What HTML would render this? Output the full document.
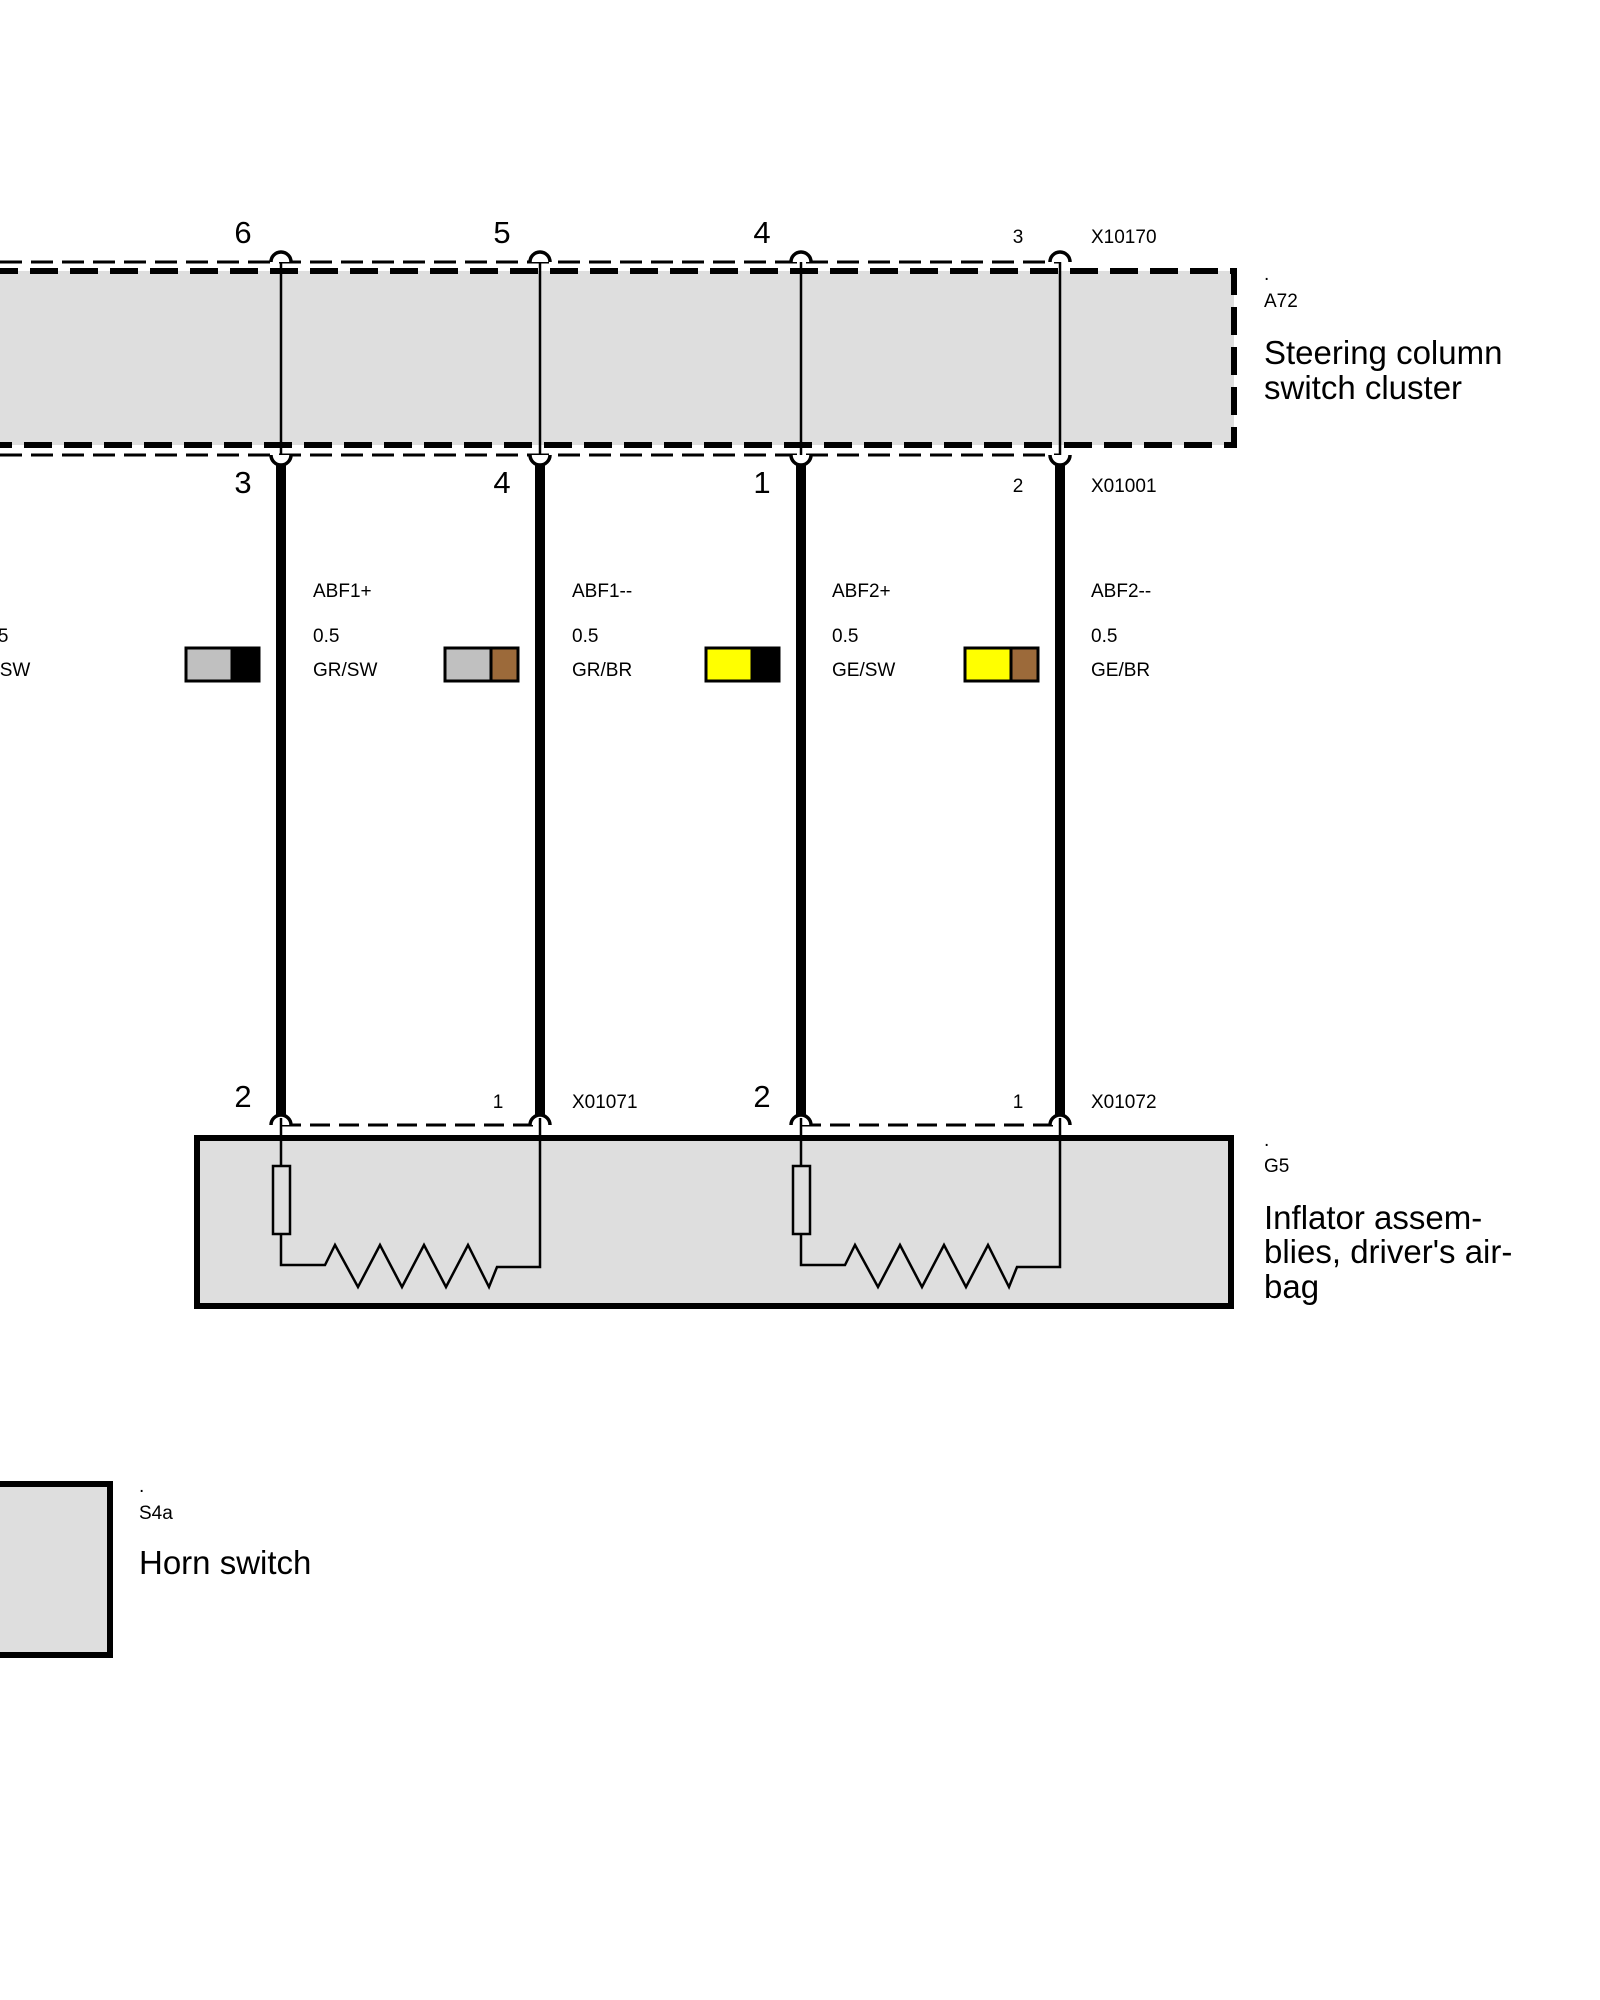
<!DOCTYPE html>
<html><head><meta charset="utf-8"><style>
html,body{margin:0;padding:0;background:#fff;}
svg{display:block;}
text{font-family:"Liberation Sans",Arial,sans-serif;fill:#000;}
.s{font-size:19px;}
.b{font-size:33px;}
.p{font-size:31px;}
</style></head><body>
<svg width="1600" height="2000" viewBox="0 0 1600 2000" xmlns="http://www.w3.org/2000/svg">
<rect x="-10" y="271" width="1244" height="174" fill="#dedede"/>
<path d="M-10 271 H1234 V445 H-10" fill="none" stroke="#000" stroke-width="6" stroke-dasharray="28 12"/>
<line x1="0" y1="262" x2="1060" y2="262" stroke="#000" stroke-width="3" stroke-dasharray="22 9"/>
<line x1="0" y1="455" x2="1060" y2="455" stroke="#000" stroke-width="3" stroke-dasharray="22 9"/>
<g stroke="#000" stroke-width="2.5">
<line x1="281" y1="255" x2="281" y2="462"/>
<line x1="540" y1="255" x2="540" y2="462"/>
<line x1="801" y1="255" x2="801" y2="462"/>
<line x1="1060" y1="255" x2="1060" y2="462"/>
</g>
<g fill="#fff" stroke="#000" stroke-width="3.5">
<path d="M271 262 A10 10 0 0 1 291 262"/>
<path d="M530 262 A10 10 0 0 1 550 262"/>
<path d="M791 262 A10 10 0 0 1 811 262"/>
<path d="M1050 262 A10 10 0 0 1 1070 262"/>
<path d="M271 455 A10 10 0 0 0 291 455"/>
<path d="M530 455 A10 10 0 0 0 550 455"/>
<path d="M791 455 A10 10 0 0 0 811 455"/>
<path d="M1050 455 A10 10 0 0 0 1070 455"/>
</g>
<g stroke="#000" stroke-width="10">
<line x1="281" y1="464" x2="281" y2="1115"/>
<line x1="540" y1="464" x2="540" y2="1115"/>
<line x1="801" y1="464" x2="801" y2="1115"/>
<line x1="1060" y1="464" x2="1060" y2="1115"/>
</g>
<rect x="197" y="1138" width="1034" height="168" fill="#dedede" stroke="#000" stroke-width="6"/>
<g stroke="#000" stroke-width="3" stroke-dasharray="20 9">
<line x1="281" y1="1125" x2="540" y2="1125"/>
<line x1="801" y1="1125" x2="1060" y2="1125"/>
</g>
<g fill="#fff" stroke="#000" stroke-width="3.5">
<path d="M271 1125 A10 10 0 0 1 291 1125"/>
<path d="M530 1125 A10 10 0 0 1 550 1125"/>
<path d="M791 1125 A10 10 0 0 1 811 1125"/>
<path d="M1050 1125 A10 10 0 0 1 1070 1125"/>
</g>
<g fill="none" stroke="#000" stroke-width="2.5">
<line x1="281" y1="1118" x2="281" y2="1166"/>
<rect x="273" y="1166" width="17" height="68"/>
<polyline points="281,1234 281,1265 325,1265 335,1245 358,1287 380,1245 402,1287 424,1245 446,1287 468,1245 489,1287 497,1267 540,1267 540,1118"/>
<line x1="801" y1="1118" x2="801" y2="1166"/>
<rect x="793" y="1166" width="17" height="68"/>
<polyline points="801,1234 801,1265 845,1265 855,1245 878,1287 900,1245 922,1287 944,1245 966,1287 988,1245 1009,1287 1017,1267 1060,1267 1060,1118"/>
</g>
<rect x="-10" y="1484" width="120" height="171" fill="#dedede" stroke="#000" stroke-width="6"/>
<g stroke="#000" stroke-width="3">
<rect x="186" y="648" width="73" height="33" fill="#c0c0c0"/>
<rect x="232" y="648" width="27" height="33" fill="#000"/>
<rect x="445" y="648" width="73" height="33" fill="#c0c0c0"/>
<rect x="491" y="648" width="27" height="33" fill="#9c6a3a"/>
<rect x="706" y="648" width="73" height="33" fill="#ffff00"/>
<rect x="752" y="648" width="27" height="33" fill="#000"/>
<rect x="965" y="648" width="73" height="33" fill="#ffff00"/>
<rect x="1011" y="648" width="27" height="33" fill="#9c6a3a"/>
</g>
<text class="p" x="243" y="243" text-anchor="middle">6</text>
<text class="p" x="502" y="243" text-anchor="middle">5</text>
<text class="p" x="762" y="243" text-anchor="middle">4</text>
<text class="s" x="1018" y="243" text-anchor="middle">3</text>
<text class="s" x="1091" y="243">X10170</text>
<text class="p" x="243" y="493" text-anchor="middle">3</text>
<text class="p" x="502" y="493" text-anchor="middle">4</text>
<text class="p" x="762" y="493" text-anchor="middle">1</text>
<text class="s" x="1018" y="492" text-anchor="middle">2</text>
<text class="s" x="1091" y="492">X01001</text>
<text class="s" x="313" y="597">ABF1+</text>
<text class="s" x="313" y="642">0.5</text>
<text class="s" x="313" y="676">GR/SW</text>
<text class="s" x="572" y="597">ABF1--</text>
<text class="s" x="572" y="642">0.5</text>
<text class="s" x="572" y="676">GR/BR</text>
<text class="s" x="832" y="597">ABF2+</text>
<text class="s" x="832" y="642">0.5</text>
<text class="s" x="832" y="676">GE/SW</text>
<text class="s" x="1091" y="597">ABF2--</text>
<text class="s" x="1091" y="642">0.5</text>
<text class="s" x="1091" y="676">GE/BR</text>
<text class="s" x="-18" y="642">0.5</text>
<text class="s" x="-33" y="676">GE/SW</text>
<text class="s" x="1264" y="280">.</text>
<text class="s" x="1264" y="307">A72</text>
<text class="b" x="1264" y="364">Steering column</text>
<text class="b" x="1264" y="399">switch cluster</text>
<text class="p" x="243" y="1107" text-anchor="middle">2</text>
<text class="s" x="498" y="1108" text-anchor="middle">1</text>
<text class="s" x="572" y="1108">X01071</text>
<text class="p" x="762" y="1107" text-anchor="middle">2</text>
<text class="s" x="1018" y="1108" text-anchor="middle">1</text>
<text class="s" x="1091" y="1108">X01072</text>
<text class="s" x="1264" y="1146">.</text>
<text class="s" x="1264" y="1172">G5</text>
<text class="b" x="1264" y="1229">Inflator assem-</text>
<text class="b" x="1264" y="1263">blies, driver's air-</text>
<text class="b" x="1264" y="1298">bag</text>
<text class="s" x="139" y="1492">.</text>
<text class="s" x="139" y="1519">S4a</text>
<text class="b" x="139" y="1574">Horn switch</text>
</svg>
</body></html>
